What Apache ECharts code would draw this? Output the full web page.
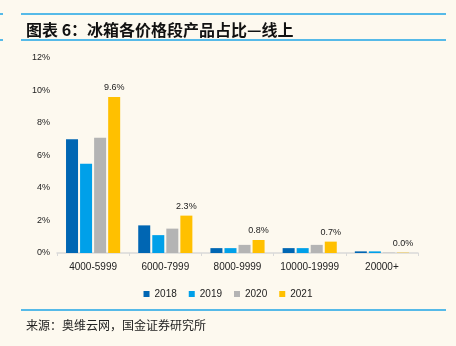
<!DOCTYPE html>
<html><head><meta charset="utf-8">
<script src="https://cdn.jsdelivr.net/npm/echarts@6/dist/echarts.min.js"></script>
<style>html,body{margin:0;padding:0;background:#FDF9EF;}#c{width:456px;height:346px;}</style>
</head><body><div id="c"></div>
<script>
var categories = ['4000-5999', '6000-7999', '8000-9999', '10000-19999', '20000+'];
var years = ['2018', '2019', '2020', '2021'];
var v2018 = [7.0, 1.7, 0.3, 0.3, 0.1];
var v2019 = [5.5, 1.1, 0.3, 0.3, 0.1];
var v2020 = [7.1, 1.5, 0.5, 0.5, 0.02];
var v2021 = [9.6, 2.3, 0.8, 0.7, 0.02];
var colors = ['#0066B3', '#00A0E9', '#B4B4B4', '#FFC000'];
var yTicks = [0, 2, 4, 6, 8, 10, 12];

var chart = echarts.init(document.getElementById('c'), null, {renderer: 'canvas'});
var allData = [v2018, v2019, v2020, v2021];
var series = years.map(function (y, i) {
  var s = {
    name: y, type: 'bar', data: allData[i], barGap: '17%', barCategoryGap: '25%',
    itemStyle: {color: colors[i]}
  };
  if (i === 3) {
    s.label = {show: true, position: 'top', distance: 5, color: '#222', fontSize: 9,
      fontFamily: 'Liberation Sans',
      formatter: function (p) { return p.value.toFixed(1) + '%'; }};
  }
  return s;
});
chart.setOption({
  backgroundColor: '#FDF9EF',
  animation: false,
  title: [{
    text: '图表 6：冰箱各价格段产品占比—线上', left: 21, top: 17,
    textStyle: {fontSize: 16, fontWeight: 'bold', color: '#111', fontFamily: 'Noto Sans CJK SC'}
  }, {
    text: '来源：奥维云网，国金证券研究所', left: 21, top: 314,
    textStyle: {fontSize: 12, fontWeight: 'normal', color: '#222', fontFamily: 'Noto Sans CJK SC'}
  }],
  graphic: [
    {type: 'line', shape: {x1: 21, y1: 14, x2: 446, y2: 14}, style: {stroke: '#1EA5E6', lineWidth: 1.5}},
    {type: 'line', shape: {x1: 21, y1: 40, x2: 446, y2: 40}, style: {stroke: '#1EA5E6', lineWidth: 1.5}},
    {type: 'line', shape: {x1: 0, y1: 14, x2: 3, y2: 14}, style: {stroke: '#1EA5E6', lineWidth: 1.5}},
    {type: 'line', shape: {x1: 0, y1: 40, x2: 3, y2: 40}, style: {stroke: '#1EA5E6', lineWidth: 1.5}},
    {type: 'line', shape: {x1: 21, y1: 310, x2: 446, y2: 310}, style: {stroke: '#1EA5E6', lineWidth: 1.5}}
  ],
  legend: {
    data: years, top: 284, left: 'center', itemWidth: 6, itemHeight: 6, itemGap: 12,
    icon: 'rect', textStyle: {fontSize: 10, color: '#222', fontFamily: 'Liberation Sans'}
  },
  grid: {left: 57, right: 38, top: 58, bottom: 93},
  xAxis: {
    type: 'category', data: categories,
    axisLine: {lineStyle: {color: '#D9D9D9', width: 1.5}},
    axisTick: {show: true, length: 3, lineStyle: {color: '#D9D9D9'}},
    axisLabel: {interval: 0, fontSize: 10, color: '#222', margin: 9, fontFamily: 'Liberation Sans'}
  },
  yAxis: {
    type: 'value', min: yTicks[0], max: yTicks[yTicks.length - 1], interval: 2,
    axisLine: {show: false}, axisTick: {show: false}, splitLine: {show: false},
    axisLabel: {fontSize: 9, color: '#222', margin: 7, fontFamily: 'Liberation Sans',
      formatter: function (v) { return v + '%'; }}
  },
  series: series
});
</script></body></html>
